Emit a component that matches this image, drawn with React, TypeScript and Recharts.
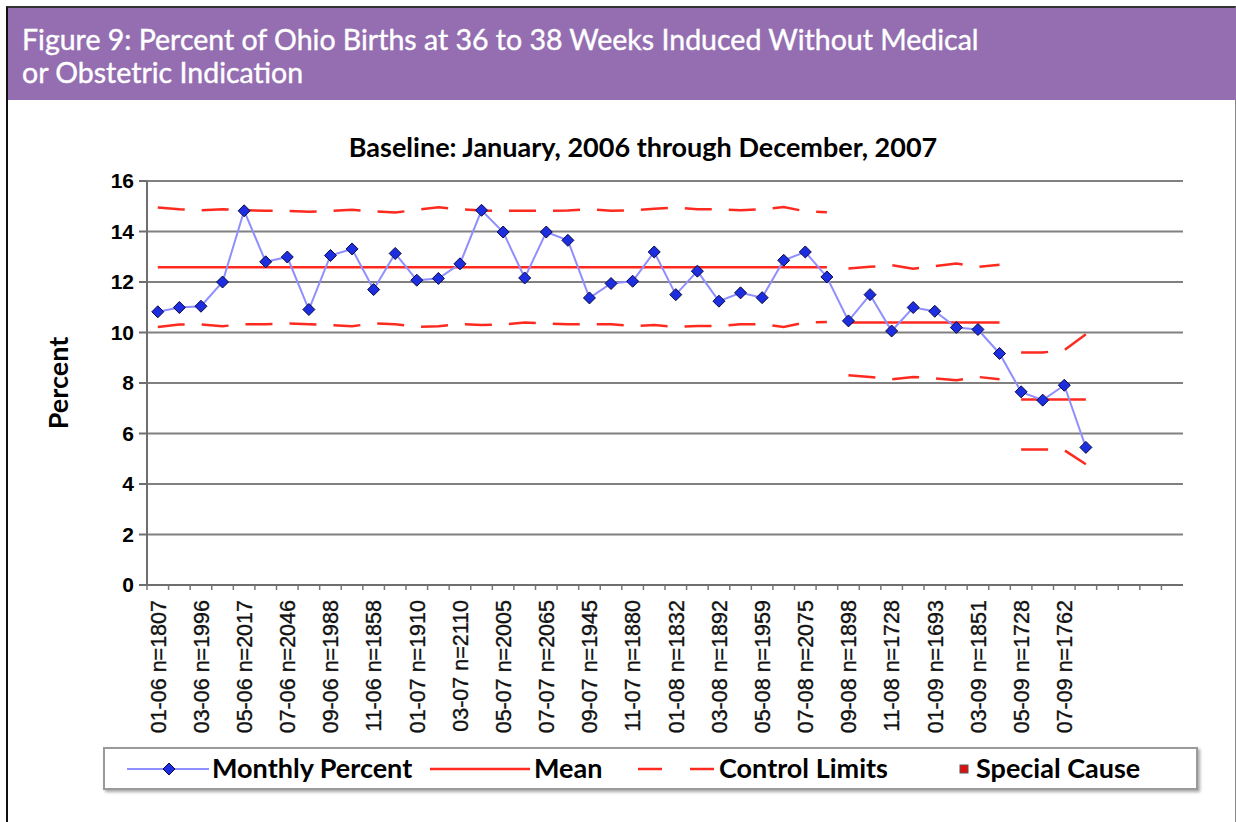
import { ComposedChart, Line, XAxis, YAxis, CartesianGrid } from 'recharts'

const MONTHS = [
  '01-06', '02-06', '03-06', '04-06', '05-06', '06-06', '07-06', '08-06', '09-06', '10-06', '11-06', '12-06',
  '01-07', '02-07', '03-07', '04-07', '05-07', '06-07', '07-07', '08-07', '09-07', '10-07', '11-07', '12-07',
  '01-08', '02-08', '03-08', '04-08', '05-08', '06-08', '07-08', '08-08', '09-08', '10-08', '11-08', '12-08',
  '01-09', '02-09', '03-09', '04-09', '05-09', '06-09', '07-09', '08-09', '09-09', '10-09', '11-09', '12-09',
]

// only every other month carries a label on the axis
const TICK_LABELS = [
  '01-06 n=1807', '', '03-06 n=1996', '', '05-06 n=2017', '', '07-06 n=2046', '', '09-06 n=1988', '', '11-06 n=1858', '',
  '01-07 n=1910', '', '03-07 n=2110', '', '05-07 n=2005', '', '07-07 n=2065', '', '09-07 n=1945', '', '11-07 n=1880', '',
  '01-08 n=1832', '', '03-08 n=1892', '', '05-08 n=1959', '', '07-08 n=2075', '', '09-08 n=1898', '', '11-08 n=1728', '',
  '01-09 n=1693', '', '03-09 n=1851', '', '05-09 n=1728', '', '07-09 n=1762', '', '', '', '', '',
]

const PCT = [
  10.82, 10.99, 11.04, 12.0, 14.82, 12.8, 12.99, 10.91, 13.05, 13.31,
  11.7, 13.13, 12.07, 12.14, 12.72, 14.84, 13.98, 12.16, 13.98, 13.65,
  11.37, 11.94, 12.03, 13.19, 11.5, 12.43, 11.24, 11.57, 11.38, 12.86,
  13.19, 12.2, 10.46, 11.5, 10.06, 10.99, 10.84, 10.2, 10.12, 9.17,
  7.65, 7.32, 7.91, 5.45,
]

const UCL = [
  14.95, 14.88, 14.84, 14.88, 14.84, 14.82, 14.82, 14.78, 14.82, 14.86, 14.8, 14.75, 14.86, 14.96, 14.88,
  14.83, 14.82, 14.82, 14.82, 14.83, 14.88, 14.82, 14.84, 14.9, 14.95, 14.88, 14.88, 14.84, 14.88, 14.97, 14.8, 14.76,
  12.53, 12.6, 12.67, 12.53, 12.63, 12.73, 12.6, 12.68,
  9.21, 9.21, 9.3, 9.93,
]

const LCL = [
  10.22, 10.32, 10.32, 10.25, 10.33, 10.33, 10.36, 10.33, 10.29, 10.25, 10.36, 10.33, 10.22, 10.25, 10.33,
  10.3, 10.32, 10.4, 10.36, 10.33, 10.33, 10.33, 10.25, 10.3, 10.22, 10.26, 10.26, 10.33, 10.33, 10.22, 10.4, 10.42,
  8.31, 8.24, 8.15, 8.24, 8.18, 8.11, 8.24, 8.15,
  5.37, 5.37, 5.34, 4.78,
]

// baseline, 2nd and 3rd phase of the control chart
const PHASE_SIZES = [32, 8, 4]
const MEANS = [12.58, 10.4, 7.35]
const Y_TICKS = [0, 2, 4, 6, 8, 10, 12, 14, 16]

const phaseOf = (i: number) => {
  let acc = 0
  for (let p = 0; p < PHASE_SIZES.length; p++) {
    acc += PHASE_SIZES[p]
    if (i < acc) return p
  }
  return -1
}

const rows = MONTHS.map((month, i) => {
  const row: Record<string, string | number | null> = { month }
  if (i < PCT.length) row.pct = PCT[i]
  const p = phaseOf(i)
  if (p >= 0) {
    row[`mean${p}`] = MEANS[p]
    row[`ucl${p}`] = UCL[i]
    row[`lcl${p}`] = LCL[i]
  }
  return row
})

const PLOT_W = 1036
const BAND = PLOT_W / MONTHS.length
const RED = '#ff2a1f'
const BLUE_LINE = '#8f8fff'
const GRID = '#808080'
const FONT = 'Lato, "Open Sans", sans-serif'
const AXIS_FONT = '"Liberation Sans", Arial, sans-serif'

function Diamond({ cx, cy }: any) {
  if (cx == null || cy == null) return null
  const r = 6
  return <polygon points={`${cx},${cy - r} ${cx + r},${cy} ${cx},${cy + r} ${cx - r},${cy}`} fill="#1c2ee0" stroke="#0a0a40" strokeWidth={1} />
}

function MonthTick({ x, y, payload }: any) {
  const label = TICK_LABELS[payload.index]
  const bx = x - BAND / 2
  return (
    <g>
      <line x1={bx} x2={bx} y1={y} y2={y + 5} stroke="#777" strokeWidth={1.5} />
      {label && (
        <text transform={`translate(${x},${y + 15}) rotate(-90)`} textAnchor="end" dy="0.36em"
          fontSize={21.5} fontFamily={AXIS_FONT} fill="#111" stroke="#111" strokeWidth={0.35}>{label}</text>
      )}
    </g>
  )
}

function PercentLabel({ viewBox }: any) {
  const cx = 50
  const cy = viewBox.y + viewBox.height / 2
  return (
    <text transform={`translate(${cx},${cy}) rotate(-90)`} textAnchor="middle" dy="0.36em"
      fontSize={27} fontWeight="bold" fontFamily={FONT} fill="#000">Percent</text>
  )
}

function Legend() {
  const txt = { fontSize: 27, fontWeight: 700, fontFamily: FONT, color: '#000', position: 'absolute' as const, top: 2 }
  return (
    <div style={{ position: 'absolute', left: 95, top: 739, width: 1091, height: 39, border: '2px solid #9a9a9a',
      boxShadow: '2px 2px 3px rgba(0,0,0,.35)', background: '#fff' }}>
      <svg width={1091} height={39} style={{ position: 'absolute', left: 0, top: 0 }}>
        <line x1={22} x2={104} y1={20} y2={20} stroke={BLUE_LINE} strokeWidth={2} />
        <Diamond cx={64} cy={20} />
        <line x1={325} x2={425} y1={20} y2={20} stroke={RED} strokeWidth={2.5} />
        <line x1={533} x2={557} y1={20} y2={20} stroke={RED} strokeWidth={2.5} />
        <line x1={585} x2={609} y1={20} y2={20} stroke={RED} strokeWidth={2.5} />
        <rect x={855} y={16} width={8} height={8} fill="#e01010" stroke="#555" strokeWidth={1} />
      </svg>
      <span style={{ ...txt, left: 107 }}>Monthly Percent</span>
      <span style={{ ...txt, left: 429 }}>Mean</span>
      <span style={{ ...txt, left: 614 }}>Control Limits</span>
      <span style={{ ...txt, left: 871 }}>Special Cause</span>
    </div>
  )
}

export default function App() {
  return (
    <div style={{ position: 'absolute', left: 6, top: 6, width: 1230, height: 816, boxSizing: 'border-box',
      borderLeft: '2px solid #111', borderTop: '2px solid #333', borderRight: '1px solid #888', background: '#fff' }}>
      <div style={{ position: 'absolute', left: 0, top: 0, width: 1228, height: 92, background: '#946eb0',
        color: '#fff', fontFamily: FONT, fontSize: 28.5, lineHeight: '33px', padding: '15px 0 0 14px',
        boxSizing: 'border-box', WebkitTextStroke: '0.4px #fff' }}>
        Figure 9: Percent of Ohio Births at 36 to 38 Weeks Induced Without Medical<br />or Obstetric Indication
      </div>
      <div style={{ position: 'absolute', left: 0, top: 122, width: 1270, textAlign: 'center', fontFamily: FONT,
        fontSize: 27, fontWeight: 700, color: '#000' }}>
        Baseline: January, 2006 through December, 2007
      </div>
      <div style={{ position: 'absolute', left: 0, top: 92 }}>
        <ComposedChart width={1220} height={714} data={rows} margin={{ top: 81, right: 45, left: 0, bottom: 0 }}>
          <CartesianGrid vertical={false} stroke={GRID} strokeWidth={2} />
          <XAxis dataKey="month" interval={0} height={229} tickSize={0} tickMargin={0} tick={<MonthTick />}
            padding={{ left: BAND / 2, right: BAND / 2 }} axisLine={{ stroke: '#6e6e6e', strokeWidth: 2 }} />
          <YAxis domain={[0, 16]} ticks={Y_TICKS} width={139} tickSize={8} tickMargin={5} interval={0}
            tick={{ fontSize: 21, fontWeight: 'bold', fill: '#000', fontFamily: AXIS_FONT }}
            tickLine={{ stroke: '#6e6e6e', strokeWidth: 2 }} axisLine={{ stroke: '#6e6e6e', strokeWidth: 2 }}
            label={<PercentLabel />} />
          <YAxis yAxisId="frame" orientation="right" domain={[0, 16]} width={0} tick={false} tickLine={false}
            axisLine={{ stroke: '#8a8a8a', strokeWidth: 2 }} />
          {PHASE_SIZES.map((_, p) => [
            <Line key={`ucl${p}`} dataKey={`ucl${p}`} stroke={RED} strokeWidth={2.5} strokeDasharray="27 17" dot={false}
              isAnimationActive={false} type="linear" />,
            <Line key={`lcl${p}`} dataKey={`lcl${p}`} stroke={RED} strokeWidth={2.5} strokeDasharray="27 17" dot={false}
              isAnimationActive={false} type="linear" />,
            <Line key={`mean${p}`} dataKey={`mean${p}`} stroke={RED} strokeWidth={2.5} dot={false}
              isAnimationActive={false} type="linear" />,
          ])}
          <Line dataKey="pct" stroke={BLUE_LINE} strokeWidth={2} dot={<Diamond />} activeDot={false}
            isAnimationActive={false} type="linear" />
        </ComposedChart>
      </div>
      <Legend />
    </div>
  )
}
